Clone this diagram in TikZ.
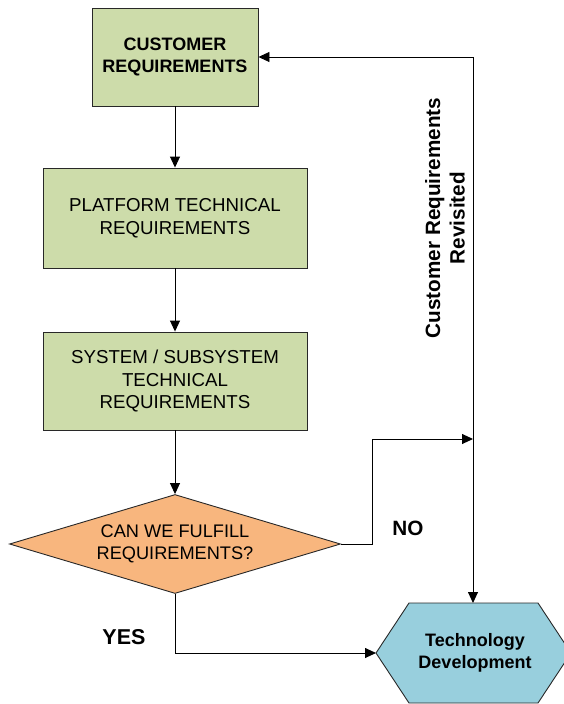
\documentclass[tikz,border=0pt]{standalone}
\usepackage{fontspec}
\setmainfont{Liberation Sans}
\usetikzlibrary{arrows.meta,shapes.geometric}
\definecolor{boxgreen}{RGB}{205,220,170}
\definecolor{decorange}{RGB}{248,182,126}
\definecolor{techblue}{RGB}{152,207,221}
\definecolor{edgegray}{RGB}{40,40,40}
\tikzset{
  reqbox/.style={draw=edgegray, line width=0.9pt, fill=boxgreen, align=center,
    font=\fontsize{18.7}{22.5}\selectfont, inner sep=0pt},
  decision/.style={diamond, draw=edgegray, line width=0.9pt, fill=decorange, align=center,
    font=\fontsize{18.2}{22}\selectfont, inner sep=0pt, aspect=3.34,
    minimum width=331pt, minimum height=99pt},
  flow/.style={draw=black, line width=0.9pt, -{Triangle[length=11pt,width=10pt]}},
  tag/.style={font=\bfseries\fontsize{20.7}{24}\selectfont}
}
\begin{document}
\begin{tikzpicture}[x=1pt,y=-1pt]
\useasboundingbox (0,0) rectangle (563,704);

% requirement boxes
\node[reqbox, minimum width=166pt, minimum height=98pt, font=\bfseries\fontsize{18}{22}\selectfont]
  (cust) at (175,57) {CUSTOMER\\REQUIREMENTS};
\node[reqbox, minimum width=264pt, minimum height=100pt]
  (plat) at (175,218) {PLATFORM TECHNICAL\\REQUIREMENTS};
\node[reqbox, minimum width=264pt, minimum height=98pt]
  (sys) at (175,381) {SYSTEM / SUBSYSTEM\\TECHNICAL\\REQUIREMENTS};

% decision
\node[decision] (can) at (175,544) {CAN WE FULFILL\\REQUIREMENTS?};

% technology development hexagon
\coordinate (hexW) at (376,653);
\coordinate (hexN) at (473,603);
\draw[draw=edgegray, line width=0.9pt, fill=techblue]
  (376,653) -- (409,603) -- (538,603) -- (571,653) -- (538,703) -- (409,703) -- cycle;
\node[align=center, font=\bfseries\fontsize{18}{22}\selectfont] (tech) at (475,653)
  {Technology\\Development};

% main flow
\draw[flow] (cust) -- (plat);
\draw[flow] (plat) -- (sys);
\draw[flow] (sys) -- (can);

% NO branch
\coordinate (noA) at (372,544);
\coordinate (noB) at (372,439);
\coordinate (noC) at (473,439);
\draw[flow] (can.east) -- (noA) -- (noB) -- (noC);

% feedback / development line
\coordinate (top) at (473,57);
\draw[flow] (top) -- (cust.east);
\draw[flow] (top) -- (hexN);

% YES branch
\coordinate (yesA) at (175,653);
\draw[flow] (can.south) -- (yesA) -- (hexW);

% labels
\node[tag] (nolab) at (408,528) {NO};
\node[tag, font=\bfseries\fontsize{21.5}{24}\selectfont] (yeslab) at (124,637) {YES};
\node[rotate=90, align=center, font=\bfseries\fontsize{20.7}{24.5}\selectfont] (revis) at (445,218)
  {Customer Requirements\\Revisited};
\end{tikzpicture}
\end{document}
